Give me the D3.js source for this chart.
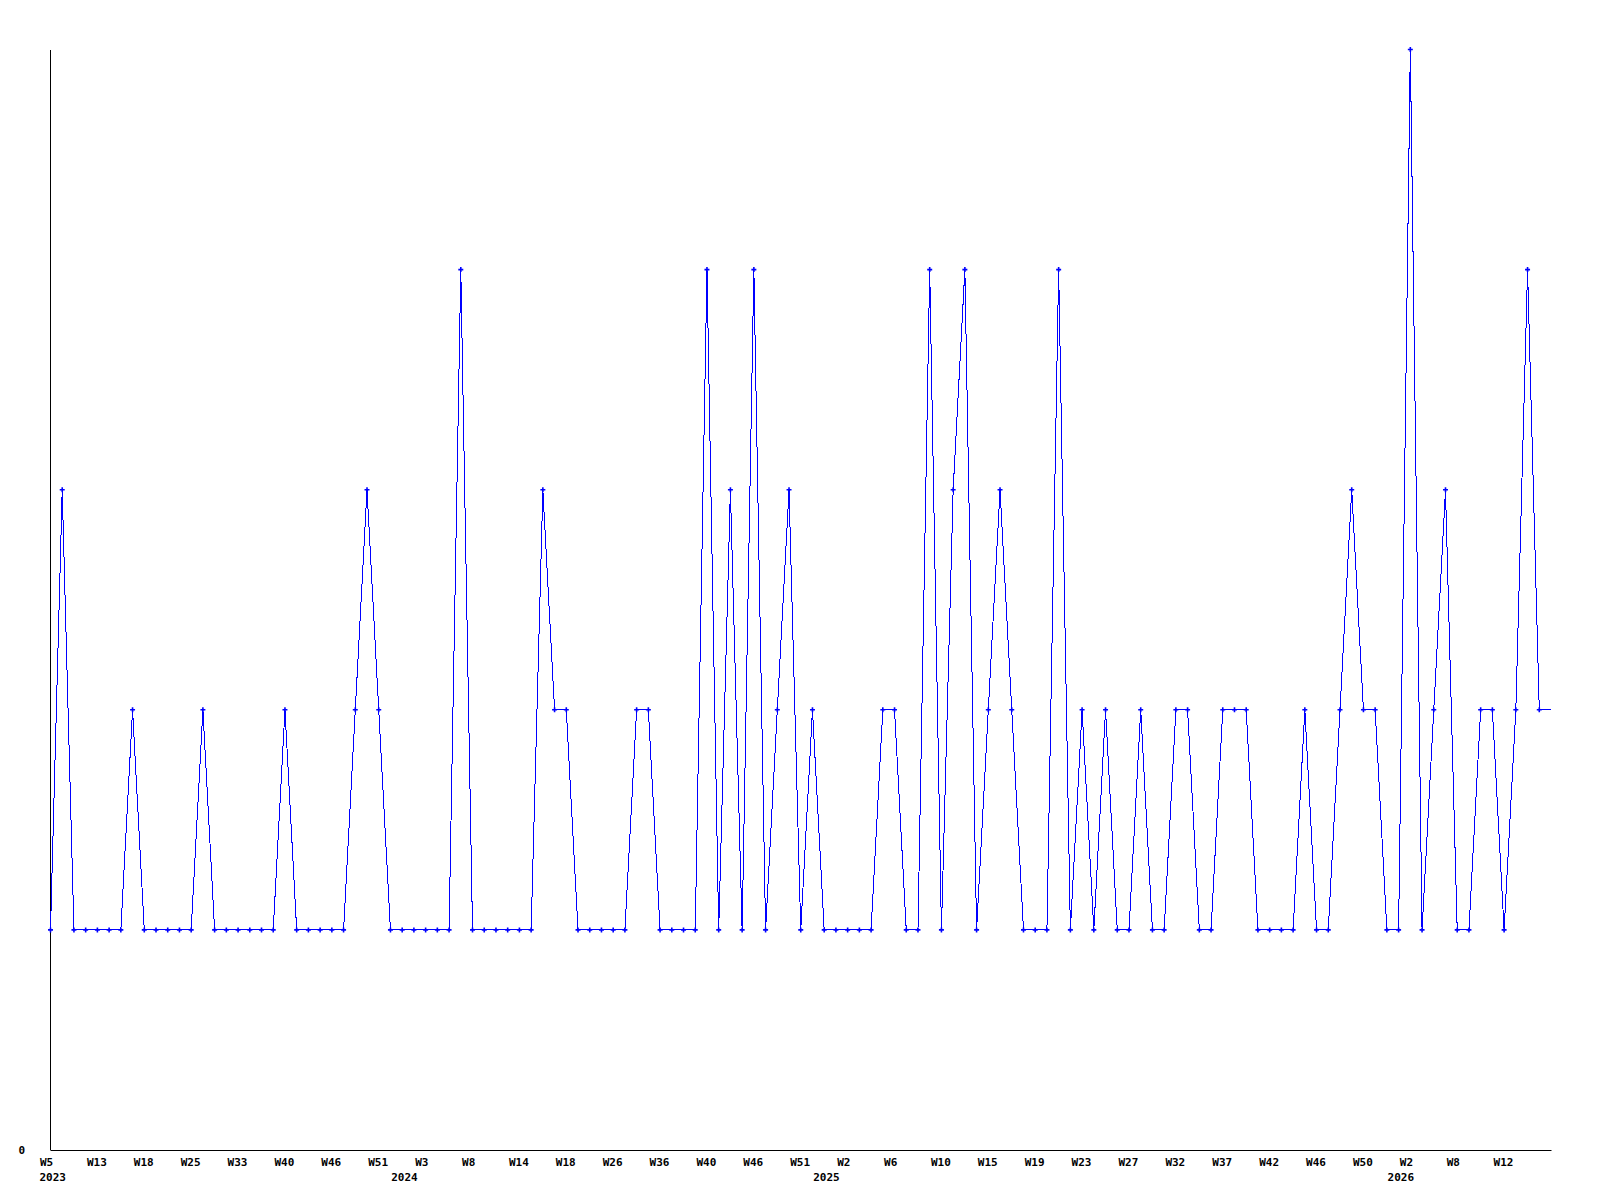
<!DOCTYPE html>
<html>
<head>
<meta charset="utf-8">
<script src="https://cdn.jsdelivr.net/npm/d3@7"></script>
<style>
  body { margin: 0; background: #fff; }
  text { font-family: "DejaVu Sans Mono", monospace; font-weight: bold; font-size: 11px; fill: #000; }
</style>
</head>
<body>
<svg id="chart" width="1600" height="1200"></svg>
<script>
// one value per data point, points are evenly spaced (not per week)
let values = [
    1,3,1,1,1,1,1,2,1,1,1,1,1,2,1,1,1,1,1,1,2,1,1,1,1,1,2,3,2,1,1,1,
    1,1,1,4,1,1,1,1,1,1,3,2,2,1,1,1,1,1,2,2,1,1,1,1,4,1,3,1,4,1,2,3,
    1,2,1,1,1,1,1,2,2,1,1,4,1,3,4,1,2,3,2,1,1,1,4,1,2,1,2,1,1,2,1,1,
    2,2,1,1,2,2,2,1,1,1,1,2,1,1,2,3,2,2,1,1,5,1,2,3,1,1,2,2,1,2,4,2,
    2
];

// a week label under every 4th point
let weekLabels = [
    'W5','W13','W18','W25','W33','W40','W46','W51',
    'W3','W8','W14','W18','W26','W36','W40','W46',
    'W51','W2','W6','W10','W15','W19','W23','W27',
    'W32','W37','W42','W46','W50','W2','W8','W12'
];
let labelStep = 4;

// year labels and the point index where each year starts
let years = ['2023','2024','2025','2026'];
let yearStarts = [0, 30, 66, 115];

let yMax = 5;

let svg = d3.select('#chart');

let x = d3.scaleLinear()
    .domain([0, values.length - 1])
    .range([50.5, 1551]);
let y = d3.scaleLinear()
    .domain([0, yMax])
    .range([1150, 49.5]);

// x axis: plain line, labels left-shifted like the original
let xAxis = svg.append('g')
    .attr('transform', 'translate(0,1150)')
    .call(d3.axisBottom(x)
        .tickValues(weekLabels.map((d, i) => i * labelStep))
        .tickFormat((d, i) => weekLabels[i])
        .tickSize(0)
        .tickSizeOuter(0));
xAxis.select('.domain').attr('stroke', '#000');
xAxis.selectAll('text')
    .attr('text-anchor', 'start')
    .attr('x', -11)
    .attr('y', 16)
    .attr('dy', 0);

svg.append('g').selectAll('text')
    .data(years)
    .join('text')
        .attr('x', (d, i) => x(yearStarts[i]) - 11)
        .attr('y', 1181)
        .text(d => d);

// y axis: only the zero label
let yAxis = svg.append('g')
    .attr('transform', 'translate(50,0)')
    .call(d3.axisLeft(y)
        .tickValues([0])
        .tickFormat(d3.format('d'))
        .tickSize(0)
        .tickSizeOuter(0));
yAxis.select('.domain').attr('stroke', '#000');
yAxis.selectAll('text')
    .attr('x', -25)
    .attr('dy', '0.32em');

let line = d3.line()
    .x((d, i) => x(i))
    .y(d => y(d));

svg.append('path')
    .datum(values)
    .attr('fill', 'none')
    .attr('stroke', '#0000ff')
    .attr('stroke-width', 1)
    .attr('shape-rendering', 'crispEdges')
    .attr('d', line);

// markers on every point but the last one (line just runs to the edge)
svg.append('g').selectAll('path')
    .data(values.slice(0, -1))
    .join('path')
        .attr('transform', (d, i) => `translate(${x(i)},${y(d)})`)
        .attr('fill', '#0000ff')
        .attr('d', 'M-2.5,-0.8H2.5V0.8H-2.5Z M-0.8,-2.5H0.8V2.5H-0.8Z');
</script>
</body>
</html>
